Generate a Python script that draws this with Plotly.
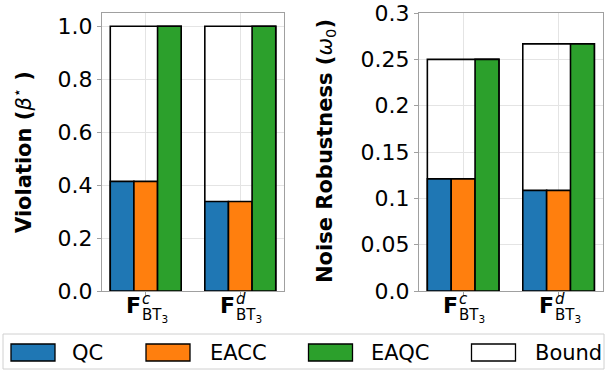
import plotly.graph_objects as go

# ---------------- data ----------------
cat_pos = [0, 1]
cat_sup = ["c", "d"]
series_names = ["QC", "EACC", "EAQC", "Bound"]
series_colors = ["#1f77b4", "#ff7f0e", "#2ca02c", "#ffffff"]

violation_qc = [0.414, 0.338]
violation_eacc = [0.414, 0.338]
violation_eaqc = [1.0, 1.0]
violation_bound = [1.0, 1.0]

noise_qc = [0.121, 0.1086]
noise_eacc = [0.121, 0.1086]
noise_eaqc = [0.25, 0.2667]
noise_bound = [0.25, 0.2667]

left_tickvals = [0.0, 0.2, 0.4, 0.6, 0.8, 1.0]
left_ticktext = ["0.0", "0.2", "0.4", "0.6", "0.8", "1.0"]
right_tickvals = [0.0, 0.05, 0.1, 0.15, 0.2, 0.25, 0.3]
right_ticktext = ["0.0", "0.05", "0.1", "0.15", "0.2", "0.25", "0.3"]

W, H = 606, 371
FONT = "DejaVu Sans"
EDGE = dict(color="black", width=1.6)
BW = 0.25

fig = go.Figure()


def add_group(xa, ya, qc, eacc, eaqc, bound):
    fig.add_trace(go.Bar(x=cat_pos, y=bound, width=3 * BW, offset=-1.5 * BW,
                         marker=dict(color="rgba(255,255,255,0)", line=EDGE),
                         xaxis=xa, yaxis=ya, name="Bound", showlegend=False))
    for vals, col, off, nm in [(qc, series_colors[0], -1.5 * BW, "QC"),
                               (eacc, series_colors[1], -0.5 * BW, "EACC"),
                               (eaqc, series_colors[2], 0.5 * BW, "EAQC")]:
        fig.add_trace(go.Bar(x=cat_pos, y=vals, width=BW, offset=off,
                             marker=dict(color=col, line=EDGE, opacity=1),
                             xaxis=xa, yaxis=ya, name=nm, showlegend=False))


add_group("x", "y", violation_qc, violation_eacc, violation_eaqc, violation_bound)
add_group("x2", "y2", noise_qc, noise_eacc, noise_eaqc, noise_bound)

ydom = [80 / H, 358 / H]
axis_common = dict(showline=True, linecolor="#a0a0a0", linewidth=1, mirror=True,
                   ticks="outside", ticklen=4, tickcolor="#a0a0a0",
                   gridcolor="#e4e4e4", gridwidth=1, zeroline=False, automargin=False,
                   tickfont=dict(family=FONT, size=22, color="black"))

fig.update_layout(
    width=W, height=H, margin=dict(l=0, r=0, t=0, b=0, autoexpand=False),
    paper_bgcolor="white", plot_bgcolor="white",
    barmode="overlay", showlegend=False,
    xaxis=dict(domain=[102 / W, 284 / W], range=[-0.4625, 1.4625],
               tickvals=cat_pos, showticklabels=False, anchor="y", **axis_common),
    yaxis=dict(domain=ydom, range=[0, 1.05], tickvals=left_tickvals,
               ticktext=left_ticktext, anchor="x", **axis_common),
    xaxis2=dict(domain=[419 / W, 602.7 / W], range=[-0.4625, 1.4625],
                tickvals=cat_pos, showticklabels=False, anchor="y2", **axis_common),
    yaxis2=dict(domain=ydom, range=[0, 0.3], tickvals=right_tickvals,
                ticktext=right_ticktext, anchor="x2", **axis_common),
)

ann = []
# category tick labels: bold F with superscript and subscript stacked
for xr, yr in [("x", "y domain"), ("x2", "y2 domain")]:
    for p, s in zip(cat_pos, cat_sup):
        ann.append(dict(x=p, y=0, xref=xr, yref=yr, xanchor="left", yanchor="top",
                        xshift=-22, yshift=0, showarrow=False, text="<b>F</b>",
                        font=dict(family=FONT, size=22, color="black")))
        ann.append(dict(x=p, y=0, xref=xr, yref=yr, xanchor="left", yanchor="top",
                        xshift=-6, yshift=3, showarrow=False, text="<i>" + s + "</i>",
                        font=dict(family=FONT, size=15, color="black")))
        ann.append(dict(x=p, y=0, xref=xr, yref=yr, xanchor="left", yanchor="top",
                        xshift=-6, yshift=-12.5, showarrow=False, text="BT<sub>3</sub>",
                        font=dict(family=FONT, size=15, color="black")))

# y axis titles
ann.append(dict(x=22 / W, y=1 - 152 / H, xref="paper", yref="paper",
                xanchor="center", yanchor="middle", textangle=-90, showarrow=False,
                text="<b>Violation (</b><i>β</i><sup>⋆</sup><b> )</b>",
                font=dict(family=FONT, size=21, color="black")))
ann.append(dict(x=326 / W, y=1 - 151 / H, xref="paper", yref="paper",
                xanchor="center", yanchor="middle", textangle=-90, showarrow=False,
                text="<b>Noise Robustness (</b><i>ω</i><sub>0</sub><b>)</b>",
                font=dict(family=FONT, size=21, color="black")))

# manual legend
shapes = [dict(type="rect", xref="paper", yref="paper",
               x0=3 / W, x1=604 / W, y0=1 - 369 / H, y1=1 - 334 / H,
               line=dict(color="#d0d0d0", width=1), fillcolor="white", layer="below")]
sw_x = [11, 146, 308.5, 471.5]
txt_x = [70, 208, 369, 533]
for nm, col, sx, tx in zip(series_names, series_colors, sw_x, txt_x):
    shapes.append(dict(type="rect", xref="paper", yref="paper",
                       x0=sx / W, x1=(sx + 44) / W, y0=1 - 361 / H, y1=1 - 344 / H,
                       line=dict(color="black", width=1.3), fillcolor=col))
    ann.append(dict(x=tx / W, y=1 - 352.5 / H, xref="paper", yref="paper",
                    xanchor="left", yanchor="middle", showarrow=False, text=nm,
                    font=dict(family=FONT, size=21, color="black")))

fig.update_layout(annotations=ann, shapes=shapes)
fig.write_html("out.html", config={"displayModeBar": False, "staticPlot": True},
               post_script="document.body.style.margin='0px';document.body.style.padding='0px';")
